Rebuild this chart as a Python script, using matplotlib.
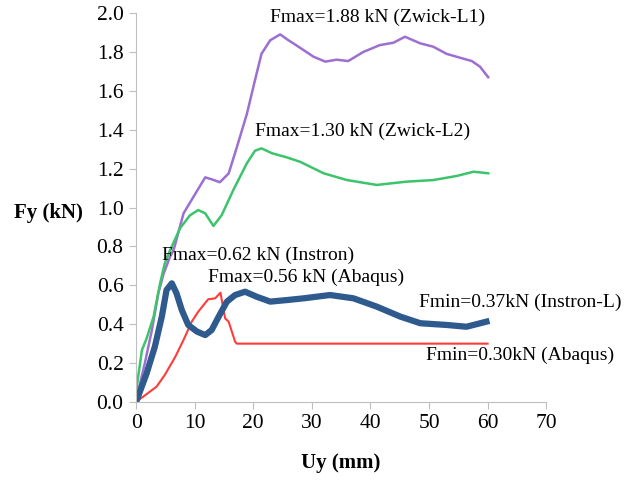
import matplotlib
matplotlib.use('Agg')
import matplotlib.pyplot as plt

plt.rcParams['font.family'] = ['Liberation Serif', 'DejaVu Serif']

# Zwick-L1 (purple)
l1_x = [0, 0.4, 1.5, 2.7, 3.8, 4.7, 5.8, 6.4, 8.1, 10.1, 11.8, 12.9, 14.3,
        15.8, 17.2, 18.9, 20.3, 21.4, 22.9, 24.6, 26.0, 27.4, 30.3, 32.3,
        34.2, 36.2, 38.8, 41.6, 43.9, 45.9, 48.5, 50.7, 53.0, 55.3, 57.3,
        58.7, 60.1]
l1_y = [0, 0.06, 0.20, 0.37, 0.56, 0.66, 0.747, 0.78, 0.97, 1.07, 1.155,
        1.145, 1.13, 1.175, 1.31, 1.48, 1.655, 1.79, 1.86, 1.89, 1.86, 1.833,
        1.775, 1.75, 1.76, 1.753, 1.80, 1.835, 1.847, 1.878, 1.844, 1.827,
        1.79, 1.77, 1.753, 1.724, 1.67]

# Zwick-L2 (green)
l2_x = [0, 0.2, 1.0, 1.8, 3.0, 4.1, 4.9, 5.8, 7.5, 9.2, 10.6, 11.8, 13.2,
        14.6, 16.6, 18.9, 20.3, 21.4, 23.2, 25.7, 28.0, 32.0, 36.0, 41.1,
        46.2, 50.7, 54.7, 57.6, 60.1]
l2_y = [0, 0.096, 0.267, 0.327, 0.44, 0.61, 0.713, 0.78, 0.893, 0.96, 0.987,
        0.97, 0.905, 0.96, 1.09, 1.227, 1.292, 1.304, 1.279, 1.258, 1.235,
        1.176, 1.141, 1.116, 1.133, 1.141, 1.162, 1.184, 1.176]

# Instron-L (blue)
ins_x = [0, 1.8, 3.2, 4.4, 5.2, 6.1, 6.9, 7.8, 8.9, 10.4, 11.8, 12.9, 14.1,
         15.5, 16.9, 18.6, 20.6, 22.9, 25.7, 28.6, 33.1, 37.1, 41.1, 45.1,
         48.5, 53.0, 56.4, 59.8]
ins_y = [0, 0.147, 0.284, 0.44, 0.576, 0.61, 0.559, 0.473, 0.396, 0.362,
         0.344, 0.37, 0.439, 0.516, 0.55, 0.567, 0.541, 0.516, 0.524, 0.533,
         0.55, 0.533, 0.49, 0.439, 0.405, 0.396, 0.387, 0.413]

# Abaqus (red)
aba_x = [0, 3.5, 4.9, 6.7, 8.1, 9.5, 10.6, 12.3, 13.5, 14.4, 14.9, 15.2,
         15.8, 16.9, 17.2, 60]
aba_y = [0, 0.079, 0.139, 0.233, 0.319, 0.413, 0.464, 0.528, 0.533, 0.562,
         0.48, 0.43, 0.413, 0.31, 0.30, 0.30]

notes = ['Fmax=1.88 kN (Zwick-L1)', 'Fmax=1.30 kN (Zwick-L2)',
         'Fmax=0.62 kN (Instron)', 'Fmax=0.56 kN (Abaqus)',
         'Fmin=0.37kN (Instron-L)', 'Fmin=0.30kN (Abaqus)']
note_x = [41.3, 38.6, 20.8, 29.0, 65.5, 65.5]
note_y = [1.98, 1.39, 0.755, 0.64, 0.51, 0.24]

fig = plt.figure(figsize=(6.3, 4.82), dpi=100)
ax = fig.add_axes([0.216, 0.166, 0.651, 0.807])

ax.plot(l1_x, l1_y, color='#9c6fd0', lw=1.8)
ax.plot(l2_x, l2_y, color='#3cc46c', lw=1.8)
ax.plot(aba_x, aba_y, color='#ff3b3b', lw=1.5)
ax.plot(ins_x, ins_y, color='#2e5a8e', lw=4.5, solid_joinstyle='round')

for t, x, y in zip(notes, note_x, note_y):
    ax.text(x, y, t, fontsize=14, ha='center', va='center', clip_on=False)

ax.set_xlim(0, 70)
ax.set_ylim(0, 2.0)
ax.set_xticks(range(0, 71, 10))
ax.set_yticks([i / 5 for i in range(11)])
ax.set_yticklabels([f'{i / 5:.1f}' for i in range(11)])
for s in ['top', 'right']:
    ax.spines[s].set_visible(False)
for s in ['left', 'bottom']:
    ax.spines[s].set_color('#bfbfbf')
ax.tick_params(colors='#bfbfbf', labelcolor='black', labelsize=15.5,
               length=5, pad=4)

fig.text(0.077, 0.558, 'Fy (kN)', fontsize=15, fontweight='bold',
         ha='center', va='center')
fig.text(0.541, 0.04, 'Uy (mm)', fontsize=15, fontweight='bold',
         ha='center', va='center')

fig.savefig('out.png', dpi=100)
